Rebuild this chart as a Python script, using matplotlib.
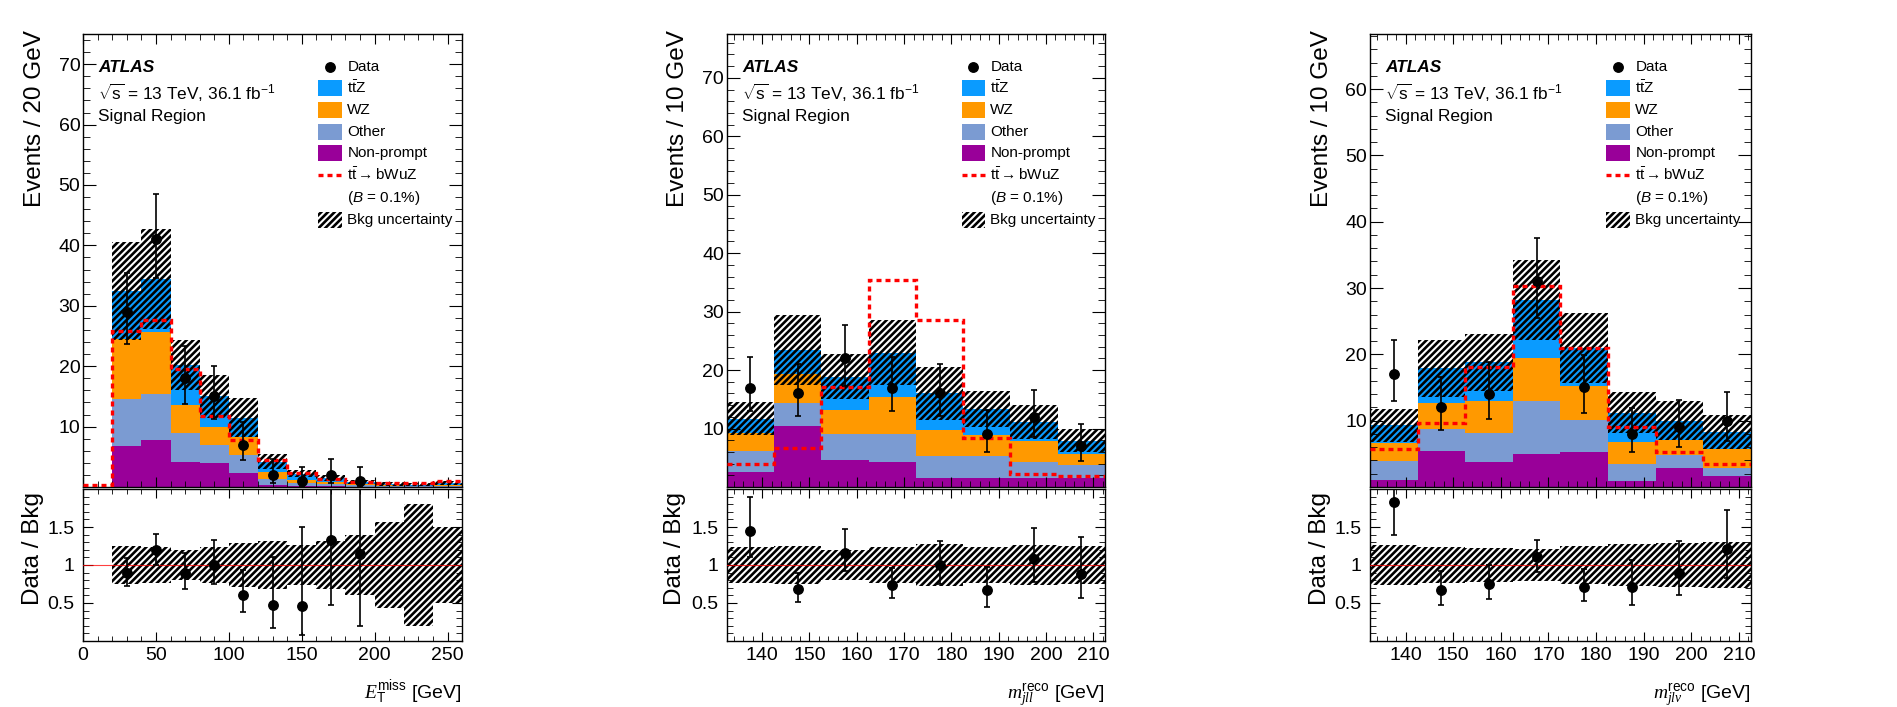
import numpy as np
import matplotlib
matplotlib.use('Agg')
import matplotlib.pyplot as plt
from matplotlib.patches import Rectangle
from matplotlib.lines import Line2D
from matplotlib.ticker import MultipleLocator, FixedLocator, FixedFormatter

plt.rcParams['font.family'] = ['Liberation Sans', 'DejaVu Sans']
plt.rcParams['mathtext.fontset'] = 'custom'
plt.rcParams['mathtext.rm'] = 'Liberation Sans'
plt.rcParams['mathtext.it'] = 'Liberation Serif:italic'
plt.rcParams['mathtext.cal'] = 'Liberation Sans:italic'
plt.rcParams['mathtext.sf'] = 'Liberation Sans'
plt.rcParams['mathtext.bf'] = 'Liberation Sans:bold'
plt.rcParams['hatch.linewidth'] = 1.9
plt.rcParams['hatch.color'] = 'black'

# ---------------- data ----------------
# Panel 1: E_T^miss, 20 GeV bins
met_edges = [0, 20, 40, 60, 80, 100, 120, 140, 160, 180, 200, 220, 240, 260]
met_nonprompt = [0.0, 6.85, 7.7, 4.2, 3.9, 2.3, 0.3, 0.2, 0.1, 0.05, 0.03, 0.02, 0.05]
met_other = [0.0, 7.75, 7.7, 4.7, 3.1, 3.0, 1.1, 0.5, 0.4, 0.25, 0.12, 0.1, 0.15]
met_wz = [0.0, 9.9, 10.2, 4.7, 3.0, 3.0, 1.1, 0.5, 0.4, 0.25, 0.15, 0.1, 0.2]
met_ttz = [0.0, 8.0, 8.8, 6.6, 5.0, 3.2, 1.7, 1.0, 0.6, 0.32, 0.2, 0.18, 0.3]
met_unc = [0.0, 8.1, 8.3, 4.1, 3.5, 3.3, 1.3, 0.57, 0.48, 0.34, 0.28, 0.32, 0.35]
met_signal = [0.3, 25.8, 27.7, 19.6, 11.7, 7.8, 4.5, 2.3, 1.4, 0.9, 0.6, 0.6, 1.0]
met_data = [0, 29, 41, 18, 15, 7, 2, 1, 2, 1, 0, 0, 0]
met_data_lo = [0, 5.35, 6.38, 4.18, 3.82, 2.58, 1.29, 0.83, 1.29, 0.83, 0, 0, 0]
met_data_hi = [0, 6.43, 7.45, 5.32, 4.96, 3.77, 2.64, 2.30, 2.64, 2.30, 0, 0, 0]

# Panel 2: m_jll^reco, 10 GeV bins
mjll_edges = [132.5, 142.5, 152.5, 162.5, 172.5, 182.5, 192.5, 202.5, 212.5]
mjll_nonprompt = [2.6, 10.4, 4.6, 4.3, 1.6, 1.5, 1.5, 1.5]
mjll_other = [3.6, 4.0, 4.4, 4.8, 3.7, 3.8, 2.7, 2.2]
mjll_wz = [3.0, 5.0, 4.1, 6.3, 4.4, 3.6, 3.6, 2.0]
mjll_ttz = [2.5, 4.1, 5.8, 7.6, 6.3, 4.5, 3.3, 2.2]
mjll_unc = [2.8, 6.0, 3.8, 5.5, 4.5, 3.1, 2.9, 2.0]
mjll_signal = [3.9, 6.6, 17.1, 35.4, 28.5, 8.4, 2.3, 1.9]
mjll_data = [17, 16, 22, 17, 16, 9, 12, 7]
mjll_data_lo = [4.06, 3.94, 4.65, 4.06, 3.94, 2.96, 3.41, 2.58]
mjll_data_hi = [5.21, 5.09, 5.76, 5.21, 5.09, 4.11, 4.55, 3.77]

# Panel 3: m_jlv^reco, 10 GeV bins
mjlv_edges = [132.5, 142.5, 152.5, 162.5, 172.5, 182.5, 192.5, 202.5, 212.5]
mjlv_nonprompt = [1.05, 5.5, 3.7, 5.0, 5.3, 0.9, 2.8, 1.6]
mjlv_other = [2.85, 3.3, 4.5, 7.9, 4.8, 2.6, 2.0, 1.3]
mjlv_wz = [2.8, 3.8, 4.7, 6.5, 5.2, 3.3, 2.3, 2.9]
mjlv_ttz = [2.6, 5.3, 5.9, 8.8, 5.7, 4.4, 2.9, 2.5]
mjlv_unc = [2.5, 4.3, 4.3, 6.0, 5.3, 3.1, 2.9, 2.5]
mjlv_signal = [5.7, 9.7, 18.1, 30.3, 20.9, 9.1, 5.2, 3.4]
mjlv_data = [17, 12, 14, 31, 15, 8, 9, 10]
mjlv_data_lo = [4.06, 3.41, 3.70, 5.53, 3.82, 2.77, 2.96, 3.11]
mjlv_data_hi = [5.21, 4.55, 4.83, 6.61, 4.96, 3.95, 4.11, 4.26]

legend_labels = ['Data', r'$\mathrm{t}\bar{\mathrm{t}}\mathrm{Z}$', 'WZ', 'Other', 'Non-prompt',
                 r'$\mathrm{t}\bar{\mathrm{t}}\rightarrow$bWuZ', r'($\mathcal{B}$ = 0.1%)', 'Bkg uncertainty']

COL_TTZ = '#0a9bff'
COL_WZ = '#ff9900'
COL_OTHER = '#7b9bd2'
COL_NP = '#990099'
HATCH = '/////'

fig = plt.figure(figsize=(18.97, 7.07), dpi=100)


def style_ticks(ax, ratio=False):
    ax.tick_params(which='both', direction='in', top=True, right=True, labelsize=14)
    if ratio:
        ax.tick_params(axis='y', which='major', length=7.2, pad=6)
        ax.tick_params(axis='y', which='minor', length=4)
        ax.tick_params(axis='x', which='major', length=6.5, pad=4)
        ax.tick_params(axis='x', which='minor', length=3.6)
    else:
        ax.tick_params(axis='y', which='major', length=9.4, pad=2)
        ax.tick_params(axis='y', which='minor', length=5)
        ax.tick_params(axis='x', which='major', length=7, labelbottom=False)
        ax.tick_params(axis='x', which='minor', length=4)
    for s in ax.spines.values():
        s.set_linewidth(1.0)


def draw_legend(ax):
    rows = [0.928, 0.881, 0.832, 0.784, 0.737, 0.689, 0.638, 0.589]
    bx, bw, bh = 0.621, 0.063, 0.035
    tx = 0.697
    tr = ax.transAxes
    ax.add_line(Line2D([0.652], [rows[0]], marker='o', color='black', ms=6.8, ls='none', transform=tr))
    for r, col in zip(rows[1:5], [COL_TTZ, COL_WZ, COL_OTHER, COL_NP]):
        ax.add_patch(Rectangle((bx, r - bh / 2), bw, bh, facecolor=col, edgecolor='none', transform=tr))
    ax.add_line(Line2D([bx, bx + bw], [rows[5], rows[5]], color='red', lw=2.4,
                       ls=(0, (1.5, 1.2)), transform=tr))
    ax.add_patch(Rectangle((bx, rows[7] - bh / 2), bw, bh, facecolor='none', edgecolor='black',
                           lw=0, hatch=HATCH, transform=tr))
    for r, lab in zip(rows, legend_labels):
        ax.text(tx, r, lab, transform=tr, fontsize=11, va='center', ha='left')


def draw_panel(left, width, edges, np_, oth, wz, ttz, unc, sig, dat, dlo, dhi,
               ymax, ylabel, xlabel, xmin_, xticks, ylabx, rylabx):
    edges = np.array(edges, float)
    ax = fig.add_axes([left, 0.3112, width, 0.6407])
    axr = fig.add_axes([left, 0.0934, width, 0.2149], sharex=ax)
    comps = [np.array(np_), np.array(oth), np.array(wz), np.array(ttz)]
    cols = [COL_NP, COL_OTHER, COL_WZ, COL_TTZ]
    base = np.zeros(len(edges) - 1)
    for c, col in zip(comps, cols):
        ax.stairs(base + c, edges, baseline=base, fill=True, color=col, lw=0, zorder=1)
        base = base + c
    total = base
    unc = np.array(unc)
    ax.stairs(total + unc, edges, baseline=total - unc, fill=True, facecolor='none',
              edgecolor='black', lw=0, hatch=HATCH, zorder=2)
    ax.stairs(np.array(sig), edges, baseline=None, color='red', lw=2.4,
              ls=(0, (1.5, 1.2)), zorder=3)
    centers = 0.5 * (edges[:-1] + edges[1:])
    dat = np.array(dat, float)
    dlo = np.array(dlo, float)
    dhi = np.array(dhi, float)
    m = dat > 0
    ax.errorbar(centers[m], dat[m], yerr=[dlo[m], dhi[m]], fmt='o', color='black', ms=6.8,
                lw=1.2, capsize=2.5, capthick=1.2, zorder=5)
    ax.set_xlim(edges[0], edges[-1])
    ax.set_ylim(0, ymax)
    ax.yaxis.set_major_locator(FixedLocator(list(range(10, int(ymax) + 1, 10))))
    ax.yaxis.set_minor_locator(MultipleLocator(2))
    ax.xaxis.set_major_locator(FixedLocator(xticks))
    ax.xaxis.set_minor_locator(MultipleLocator(xmin_))
    style_ticks(ax)
    ax.text(ylabx, 1.009, ylabel, rotation=90, ha='center', va='top', fontsize=17.5,
            transform=ax.transAxes)
    ax.text(0.04, 0.925, 'ATLAS', fontsize=12.4, fontweight='bold', fontstyle='italic',
            va='center', transform=ax.transAxes)
    ax.text(0.04, 0.870, r'$\sqrt{\mathrm{s}}$ = 13 TeV, 36.1 fb$^{\mathrm{-1}}$', fontsize=12.4,
            va='center', transform=ax.transAxes)
    ax.text(0.04, 0.817, 'Signal Region', fontsize=12.4, va='center', transform=ax.transAxes)
    draw_legend(ax)

    # ratio
    good = total > 0
    i0 = int(np.argmax(good))
    rel = unc[i0:] / total[i0:]
    axr.stairs(1 + rel, edges[i0:], baseline=1 - rel, fill=True, facecolor='none',
               edgecolor='black', lw=0, hatch=HATCH, zorder=2)
    axr.axhline(1.0, color='red', lw=0.8, alpha=0.75, zorder=3)
    mr = m & good
    axr.errorbar(centers[mr], dat[mr] / total[mr], yerr=[dlo[mr] / total[mr], dhi[mr] / total[mr]],
                 fmt='o', color='black', ms=6.8, lw=1.2, capsize=2.5, capthick=1.2, zorder=5)
    axr.set_ylim(0, 2)
    axr.yaxis.set_major_locator(FixedLocator([0.5, 1.0, 1.5]))
    axr.yaxis.set_major_formatter(FixedFormatter(['0.5', '1', '1.5']))
    axr.yaxis.set_minor_locator(MultipleLocator(0.1))
    axr.xaxis.set_major_locator(FixedLocator(xticks))
    axr.xaxis.set_minor_locator(MultipleLocator(xmin_))
    style_ticks(axr, ratio=True)
    axr.set_xlim(edges[0], edges[-1])
    axr.text(rylabx, 0.982, 'Data / Bkg', rotation=90, ha='center', va='top', fontsize=17.5,
             transform=axr.transAxes)
    axr.text(1.0, -0.38, xlabel, ha='right', va='baseline', fontsize=14, transform=axr.transAxes)


draw_panel(0.0438, 0.1998, met_edges, met_nonprompt, met_other, met_wz, met_ttz, met_unc,
           met_signal, met_data, met_data_lo, met_data_hi, 75, 'Events / 20 GeV',
           r'$E_{\mathrm{T}}^{\mathrm{miss}}$ [GeV]', 10, [0, 50, 100, 150, 200, 250],
           -0.127, -0.132)
draw_panel(0.3831, 0.1994, mjll_edges, mjll_nonprompt, mjll_other, mjll_wz, mjll_ttz, mjll_unc,
           mjll_signal, mjll_data, mjll_data_lo, mjll_data_hi, 77.5, 'Events / 10 GeV',
           r'$m_{jll}^{\mathrm{reco}}$ [GeV]', 2, [140, 150, 160, 170, 180, 190, 200, 210],
           -0.129, -0.137)
draw_panel(0.7222, 0.2007, mjlv_edges, mjlv_nonprompt, mjlv_other, mjlv_wz, mjlv_ttz, mjlv_unc,
           mjlv_signal, mjlv_data, mjlv_data_lo, mjlv_data_hi, 68.3, 'Events / 10 GeV',
           r'$m_{jl\nu}^{\mathrm{reco}}$ [GeV]', 2, [140, 150, 160, 170, 180, 190, 200, 210],
           -0.126, -0.131)

fig.savefig('out.png', dpi=100)
